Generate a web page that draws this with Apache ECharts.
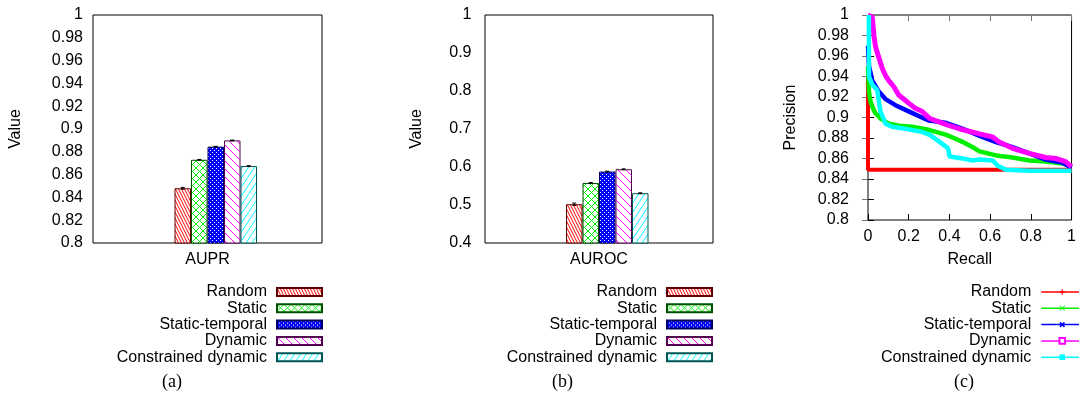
<!DOCTYPE html>
<html><head><meta charset="utf-8">
<script src="https://cdn.jsdelivr.net/npm/echarts@6/dist/echarts.min.js"></script>
<style>html,body{margin:0;padding:0;background:#fff}#c{width:1079px;height:394px}</style>
</head><body><div id="c"></div>
<script>
// ---------- data ----------
const methods = ['Random', 'Static', 'Static-temporal', 'Dynamic', 'Constrained dynamic'];
const auprCategories = ['AUPR'];
const aurocCategories = ['AUROC'];
const auprValues = [0.848, 0.873, 0.8845, 0.890, 0.8675];
const auprErrors = [0.0008, 0.0003, 0.0003, 0.0003, 0.0003];
const aurocValues = [0.502, 0.558, 0.588, 0.594, 0.531];
const aurocErrors = [0.003, 0.001, 0.001, 0.001, 0.001];

// precision-recall curves: [recall, precision]
const prRandom = [[0, 0.94], [0, 0.849], [0.67, 0.849], [1, 0.849]];
const prStatic = [[0, 0.95], [0.005, 0.925], [0.013, 0.915], [0.029, 0.907], [0.037, 0.904], [0.054, 0.901], [0.061, 0.899], [0.102, 0.894], [0.151, 0.892], [0.216, 0.891], [0.298, 0.888], [0.385, 0.883], [0.444, 0.878], [0.466, 0.876], [0.515, 0.871], [0.548, 0.867], [0.629, 0.863], [0.71, 0.861], [0.792, 0.858], [0.873, 0.857], [0.954, 0.855], [1, 0.853]];
const prStaticTemporal = [[0, 0.97], [0.005, 0.95], [0.021, 0.936], [0.054, 0.925], [0.086, 0.918], [0.135, 0.912], [0.2, 0.906], [0.265, 0.9], [0.298, 0.897], [0.379, 0.895], [0.466, 0.889], [0.548, 0.882], [0.629, 0.876], [0.71, 0.871], [0.792, 0.865], [0.873, 0.859], [0.954, 0.856], [1, 0.851]];
const prDynamic = [[0, 1.0], [0.021, 0.998], [0.029, 0.98], [0.037, 0.969], [0.054, 0.958], [0.07, 0.948], [0.086, 0.941], [0.102, 0.936], [0.127, 0.93], [0.151, 0.922], [0.2, 0.914], [0.232, 0.909], [0.265, 0.906], [0.304, 0.899], [0.385, 0.893], [0.466, 0.888], [0.548, 0.884], [0.613, 0.881], [0.645, 0.876], [0.71, 0.870], [0.792, 0.865], [0.873, 0.861], [0.922, 0.860], [0.971, 0.857], [1, 0.852]];
const prConstrained = [[0.004, 1.0], [0.005, 0.94], [0.021, 0.932], [0.045, 0.927], [0.061, 0.906], [0.078, 0.898], [0.086, 0.894], [0.118, 0.891], [0.183, 0.889], [0.265, 0.886], [0.304, 0.883], [0.353, 0.876], [0.393, 0.870], [0.401, 0.862], [0.466, 0.860], [0.515, 0.858], [0.548, 0.859], [0.613, 0.858], [0.637, 0.853], [0.678, 0.849], [0.792, 0.848], [1, 0.848]];

// ---------- styles ----------
const FONT = 'Liberation Sans, Arial, Helvetica, sans-serif';
const colors = ['#ff0000', '#00ee00', '#0000ff', '#ff00ff', '#00ffff'];
const borders = ['#600000', '#005000', '#000060', '#500050', '#005555'];
const lineWidths = [4, 4.5, 4.5, 5, 4.5];
const BAR_W = 16.5;

function makePattern(w, h, draw) {
  const c = document.createElement('canvas');
  c.width = w; c.height = h;
  const g = c.getContext('2d');
  g.fillStyle = '#fff'; g.fillRect(0, 0, w, h);
  draw(g);
  return { image: c, repeat: 'repeat' };
}
function lines(g, color, segs) {
  g.strokeStyle = color; g.lineWidth = 1; g.beginPath();
  segs.forEach(s => { g.moveTo(s[0], s[1]); g.lineTo(s[2], s[3]); });
  g.stroke();
}
const patterns = [
  makePattern(3, 6, g => lines(g, '#ff0000', [[-3, 0, 0, 6], [0, 0, 3, 6], [3, 0, 6, 6]])),
  makePattern(7, 7, g => lines(g, '#00ee00', [[0, 0, 7, 7], [7, 0, 0, 7], [-7, 0, 0, 7], [7, 7, 14, 0]])),
  makePattern(4, 4, g => { g.fillStyle = '#0000ff'; g.fillRect(0, 0, 4, 4); g.fillStyle = '#ffffff'; g.fillRect(0, 0, 1, 1); g.fillRect(2, 2, 1, 1); }),
  makePattern(8, 8, g => lines(g, '#ff00ff', [[-8, 0, 0, 8], [0, 0, 8, 8], [8, 0, 16, 8]])),
  makePattern(6, 9, g => lines(g, '#00ffff', [[-6, 9, 0, 0], [0, 9, 6, 0], [6, 9, 12, 0]]))
];

const symPlus = 'path://M4,0H6V4H10V6H6V10H4V6H0V4H4Z';
const symX = 'path://M1,0L5,4L9,0L10,1L6,5L10,9L9,10L5,6L1,10L0,9L4,5L0,1Z';
const symXBold = 'path://M0,2L2,0L5,3L8,0L10,2L7,5L10,8L8,10L5,7L2,10L0,8L3,5Z';
const symbols = [symPlus, symX, symXBold, 'emptyRect', 'rect'];

// ---------- layout helpers ----------
const txt = { fontFamily: FONT, fontSize: 16, color: '#000' };
function yAxisPair(grid, min, max, interval, margin, nameGap) {
  return [
    { type: 'value', gridIndex: grid, min, max, interval, name: 'Value', nameLocation: 'middle', nameGap,
      nameTextStyle: txt, axisLine: { show: false }, splitLine: { show: false },
      axisTick: { inside: true, length: 6, lineStyle: { color: '#000' } },
      axisLabel: Object.assign({ margin }, txt) },
    { type: 'value', gridIndex: grid, position: 'right', min, max, interval,
      axisLine: { show: false }, splitLine: { show: false }, axisLabel: { show: false },
      axisTick: { inside: true, length: 6, lineStyle: { color: '#777' } } }
  ];
}

const yAxes = [].concat(
  yAxisPair(0, 0.8, 1, 0.02, 10, 69),
  yAxisPair(1, 0.4, 1, 0.1, 13.5, 60),
  yAxisPair(2, 0.8, 1, 0.02, 19, 69)
);
yAxes[4].name = 'Precision';

const xAxes = [
  { type: 'category', gridIndex: 0, data: auprCategories, axisLine: { show: false }, axisTick: { show: false },
    axisLabel: Object.assign({ margin: 9 }, txt) },
  { type: 'category', gridIndex: 1, data: aurocCategories, axisLine: { show: false }, axisTick: { show: false },
    axisLabel: Object.assign({ margin: 9 }, txt) },
  { type: 'value', gridIndex: 2, min: 0, max: 1, interval: 0.2, name: 'Recall', nameLocation: 'middle', nameGap: 32,
    nameTextStyle: txt, axisLine: { show: false }, splitLine: { show: false },
    axisTick: { inside: true, length: 6, lineStyle: { color: '#000' } }, axisLabel: Object.assign({ margin: 9 }, txt) },
  { type: 'value', gridIndex: 2, position: 'top', min: 0, max: 1, interval: 0.2,
    axisLine: { show: false }, splitLine: { show: false }, axisLabel: { show: false },
    axisTick: { inside: true, length: 6, lineStyle: { color: '#777' } } }
];

const series = [];
function addBars(prefix, xi, yi, values, errors) {
  series.push({ type: 'bar', name: prefix + 'pad', xAxisIndex: xi, yAxisIndex: yi, data: ['-'], barWidth: BAR_W, barGap: '0%' });
  methods.forEach((m, i) => {
    series.push({ type: 'bar', name: prefix + m, xAxisIndex: xi, yAxisIndex: yi, data: [values[i]],
      barWidth: BAR_W, barGap: '0%', silent: true,
      itemStyle: { color: patterns[i], borderColor: borders[i], borderWidth: 1 } });
  });
  series.push({ type: 'custom', name: prefix + 'err', xAxisIndex: xi, yAxisIndex: yi, silent: true, z: 5,
    data: values.map((v, i) => [0, v, errors[i], i + 1]),
    encode: { x: 0, y: 1 },
    renderItem: function (params, api) {
      const v = api.value(1), e = api.value(2), slot = api.value(3);
      const c = api.coord([0, v]);
      const x = c[0] + (slot - 2.5) * BAR_W;
      const y1 = api.coord([0, v + e])[1], y2 = api.coord([0, v - e])[1];
      const st = { stroke: '#000', lineWidth: 1 };
      return { type: 'group', children: [
        { type: 'line', shape: { x1: x, y1: y1, x2: x, y2: y2 }, style: st },
        { type: 'line', shape: { x1: x - 2, y1: y1, x2: x + 2, y2: y1 }, style: st },
        { type: 'line', shape: { x1: x - 2, y1: y2, x2: x + 2, y2: y2 }, style: st }
      ] };
    } });
}
addBars('a:', 0, 0, auprValues, auprErrors);
addBars('b:', 1, 2, aurocValues, aurocErrors);

const prData = [prRandom, prStatic, prStaticTemporal, prDynamic, prConstrained];
methods.forEach((m, i) => {
  series.push({ type: 'line', name: 'c:' + m, xAxisIndex: 2, yAxisIndex: 4, data: prData[i],
    symbol: symbols[i], showSymbol: false, clip: true, silent: true, animation: false,
    lineStyle: { color: colors[i], width: lineWidths[i] }, itemStyle: { color: colors[i] } });
});

function legend(prefix, right, extra) {
  return Object.assign({
    data: methods.map(m => prefix + m), formatter: n => n.slice(2),
    orient: 'vertical', align: 'right', right, top: 284, padding: 0, itemGap: 0.3, selectedMode: false,
    textStyle: Object.assign({ padding: [0, 5, 0, 0], lineHeight: 16 }, txt)
  }, extra);
}

const option = {
  animation: false,
  backgroundColor: '#fff',
  grid: [
    { left: 93, top: 15, width: 229, height: 228, show: true, borderColor: '#000', borderWidth: 1 },
    { left: 485, top: 15, width: 228, height: 228, show: true, borderColor: '#000', borderWidth: 1 },
    { left: 868, top: 15, width: 205, height: 205, show: true, borderColor: '#000', borderWidth: 1 }
  ],
  xAxis: xAxes,
  yAxis: yAxes,
  legend: [
    legend('a:', 756, { icon: 'rect', itemWidth: 45, itemHeight: 8 }),
    legend('b:', 366, { icon: 'rect', itemWidth: 45, itemHeight: 8 }),
    legend('c:', -5, { itemWidth: 42, itemHeight: 7, lineStyle: { width: 1.5 } })
  ],
  graphic: [
    { type: 'text', left: 162, top: 373, style: { text: '(a)', font: '18px "Liberation Serif", "Times New Roman", serif', fill: '#000' } },
    { type: 'text', left: 552, top: 373, style: { text: '(b)', font: '18px "Liberation Serif", "Times New Roman", serif', fill: '#000' } },
    { type: 'text', left: 954, top: 373, style: { text: '(c)', font: '18px "Liberation Serif", "Times New Roman", serif', fill: '#000' } }
  ],
  series
};
const chart = echarts.init(document.getElementById('c'), null, { renderer: 'canvas' });
chart.setOption(option);
</script></body></html>
